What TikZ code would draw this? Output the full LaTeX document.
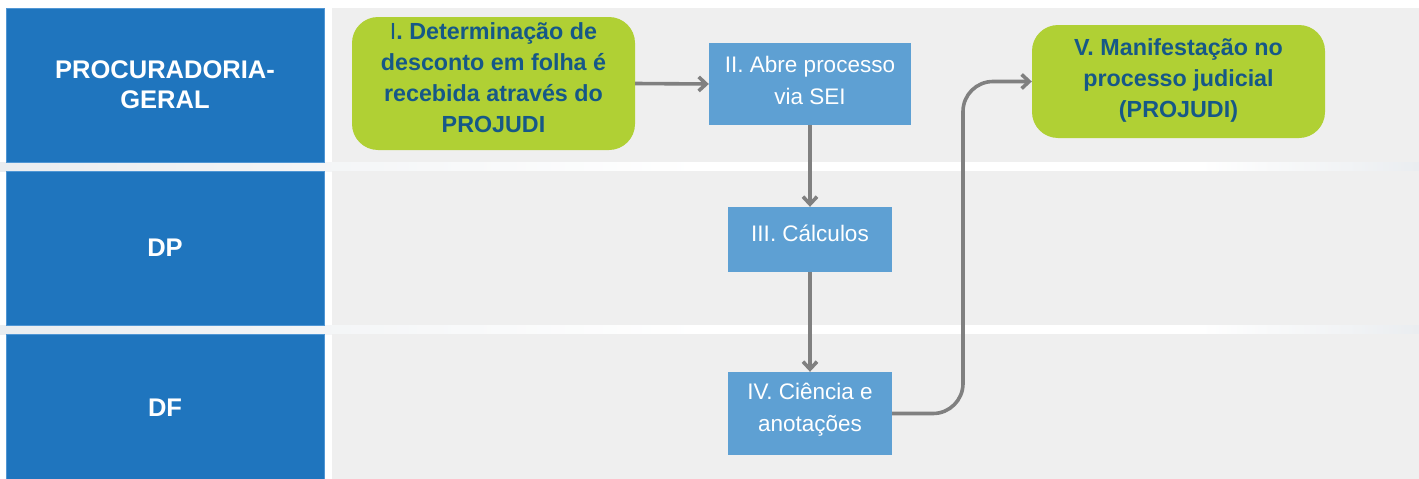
\documentclass[tikz,border=0pt]{standalone}
\usepackage{fontspec}
\setmainfont{Liberation Sans}
\usetikzlibrary{arrows.meta}
\definecolor{hdrblue}{RGB}{31,117,190}
\definecolor{hdredge}{RGB}{80,150,212}
\definecolor{lanegray}{RGB}{239,239,239}
\definecolor{stripegray}{RGB}{234,237,240}
\definecolor{boxgreen}{RGB}{176,208,52}
\definecolor{boxblue}{RGB}{94,160,211}
\definecolor{darktext}{RGB}{22,88,135}
\definecolor{arrowgray}{RGB}{128,128,128}
\tikzset{
  hdr/.style={fill=hdrblue, draw=hdredge, line width=0.8pt, text=white, align=center,
    font=\fontsize{25.5}{30}\selectfont\bfseries, inner sep=0pt},
  lane/.style={fill=lanegray, inner sep=0pt},
  greenbox/.style={fill=boxgreen, rounded corners=26pt, inner sep=0pt},
  greentext/.style={text=darktext, align=center,
    font=\fontsize{23.3}{31}\selectfont\bfseries, inner sep=0pt},
  bluebox/.style={fill=boxblue, inner sep=0pt},
  bluetext/.style={text=white, align=center,
    font=\fontsize{22.5}{32}\selectfont, inner sep=0pt},
  arr/.style={draw=arrowgray, line width=3.6pt, -{Straight Barb[length=7.5pt,width=14pt]}},
}
\begin{document}
\begin{tikzpicture}[x=1pt,y=-1pt]
\useasboundingbox (0,0) rectangle (1419,479);
\fill[white] (0,0) rectangle (1419,479);
% faint separators
\shade[left color=stripegray, right color=white] (0,162) rectangle (700,171);
\shade[left color=stripegray, right color=white] (0,325) rectangle (700,334);
\shade[left color=white, right color=stripegray] (1200,162) rectangle (1419,171);
\shade[left color=white, right color=stripegray] (1200,325) rectangle (1419,334);
% headers
\node[hdr, minimum width=318pt, minimum height=154pt] (hPG) at (165,85) {PROCURADORIA-\\GERAL};
\node[hdr, minimum width=318pt, minimum height=154pt] (hDP) at (165,248) {DP};
\node[hdr, minimum width=318pt, minimum height=147pt] (hDF) at (165,407.5) {DF};
% lanes
\node[lane, minimum width=1087pt, minimum height=154pt] (lPG) at (875.5,85) {};
\node[lane, minimum width=1087pt, minimum height=154pt] (lDP) at (875.5,248) {};
\node[lane, minimum width=1087pt, minimum height=147pt] (lDF) at (875.5,407.5) {};
% process nodes
\node[greenbox, minimum width=283pt, minimum height=133pt] (n1) at (493.5,83.5) {};
\node[greentext] (t1) at (493.5,77.5)
  {{\mdseries I}. Determinação de\\desconto em folha é\\recebida através do\\PROJUDI};
\node[bluebox, minimum width=202pt, minimum height=82pt] (n2) at (810,84) {};
\node[bluetext] (t2) at (810,80) {II. Abre processo\\via SEI};
\node[bluebox, minimum width=164pt, minimum height=65pt] (n3) at (810,239.5) {};
\node[bluetext] (t3) at (810,233) {III. Cálculos};
\node[bluebox, minimum width=164pt, minimum height=83pt] (n4) at (810,413.5) {};
\node[bluetext] (t4) at (810,410) {IV. Ciência e\\anotações};
\node[greenbox, minimum width=293pt, minimum height=113pt] (n5) at (1178.5,81.5) {};
\node[greentext] (t5) at (1178.5,80)
  {V. Manifestação no\\processo judicial\\(PROJUDI)};
% connectors
\coordinate (bend) at (963,0);
\draw[arr] (n1.east) -- (n2.west);
\draw[arr] (n2.south) -- (n3.north);
\draw[arr] (n3.south) -- (n4.north);
\draw[arr, rounded corners=30pt] (n4.east) -| (bend |- n5.west) -- (n5.west);
\end{tikzpicture}
\end{document}
